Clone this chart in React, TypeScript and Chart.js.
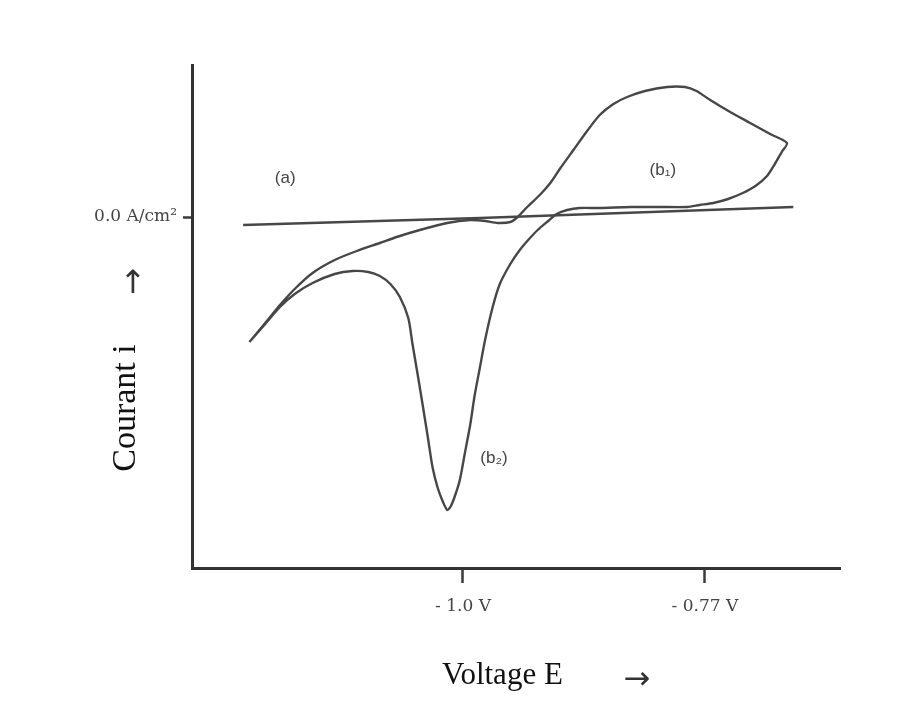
import React, { useEffect, useRef } from "react";
import { Chart, registerables } from "chart.js";

Chart.register(...registerables);

// Curve (a): straight baseline
const potentialA = [-1.209, -0.984, -0.686];
const currentA = [-0.08, -0.01, 0.1];

// Curve (b): cyclic voltammogram loop (V, arbitrary current units)
const potentialB = [
  -1.203, -1.188, -1.174, -1.16, -1.143, -1.122, -1.101, -1.079, -1.063, -1.041,
  -1.015, -0.993, -0.979, -0.967, -0.955, -0.948, -0.939, -0.927, -0.917, -0.908,
  -0.895, -0.882, -0.87, -0.857, -0.844, -0.827, -0.806, -0.789, -0.778, -0.765,
  -0.746, -0.727, -0.708, -0.692,
  -0.697, -0.703, -0.711, -0.722, -0.734, -0.748, -0.762, -0.775, -0.787, -0.813,
  -0.841, -0.87, -0.889, -0.901, -0.911, -0.919, -0.929, -0.938, -0.946, -0.955,
  -0.965, -0.972, -0.979, -0.984, -0.989, -0.993, -0.998, -1.003, -1.008, -1.012,
  -1.015, -1.019, -1.024, -1.029, -1.033, -1.038, -1.043, -1.048, -1.052, -1.06,
  -1.069, -1.079, -1.09, -1.105, -1.122, -1.143, -1.16, -1.174, -1.188, -1.203,
];
const currentB = [
  -1.25, -1.06, -0.88, -0.72, -0.56, -0.43, -0.34, -0.26, -0.2, -0.13,
  -0.06, -0.03, -0.04, -0.06, -0.05, 0.0, 0.1, 0.22, 0.34, 0.48,
  0.67, 0.86, 1.02, 1.13, 1.2, 1.26, 1.3, 1.3, 1.26, 1.17,
  1.05, 0.94, 0.83, 0.74,
  0.65, 0.54, 0.41, 0.31, 0.24, 0.18, 0.14, 0.12, 0.1, 0.1,
  0.1, 0.09, 0.09, 0.07, 0.03, -0.04, -0.13, -0.23, -0.33, -0.47,
  -0.67, -0.91, -1.23, -1.51, -1.79, -2.07, -2.35, -2.63, -2.8, -2.9,
  -2.93, -2.85, -2.71, -2.5, -2.23, -1.9, -1.58, -1.27, -1.01, -0.8,
  -0.67, -0.59, -0.55, -0.54, -0.57, -0.66, -0.77, -0.9, -1.07, -1.25,
];

const xRange = [-1.2576, -0.6416];
const yRange = [-3.51, 1.52];

const xTickValues = [-1.0, -0.77];
const xTickLabels = ["- 1.0 V", "- 0.77 V"];
const yTickValues = [0];
const yTickLabels = ["0.0 A/cm²"];

const curveLabels = ["(a)", "(b₁)", "(b₂)"];
const curveLabelX = [-1.169, -0.81, -0.9705];
const curveLabelY = [0.39, 0.47, -2.41];

const xTitle = "Voltage E";
const yTitle = "Courant i";

const annotationsPlugin = {
  id: "cvAnnotations",
  afterDraw(chart: any) {
    const { ctx, chartArea } = chart;
    const x = chart.scales.x;
    const y = chart.scales.y;
    ctx.save();
    ctx.fillStyle = "#444";
    ctx.font = '17px "Liberation Sans", "DejaVu Sans", sans-serif';
    ctx.textAlign = "center";
    ctx.textBaseline = "middle";
    curveLabels.forEach((t, i) => {
      ctx.fillText(t, x.getPixelForValue(curveLabelX[i]), y.getPixelForValue(curveLabelY[i]));
    });

    // y title (rotated)
    ctx.fillStyle = "#111";
    ctx.font = '34px "Liberation Serif", serif';
    ctx.save();
    ctx.translate(chartArea.left - 66, chartArea.top + 343);
    ctx.rotate(-Math.PI / 2);
    ctx.fillText(yTitle, 0, 0);
    ctx.restore();

    ctx.fillStyle = "#333";
    ctx.font = '32px "DejaVu Sans", sans-serif';
    ctx.fillText("↑", chartArea.left - 59, chartArea.top + 220);

    // x title
    ctx.fillStyle = "#111";
    ctx.font = '31px "Liberation Serif", serif';
    ctx.textAlign = "left";
    ctx.textBaseline = "alphabetic";
    ctx.fillText(xTitle, chartArea.left + 250, chartArea.bottom + 116);

    ctx.fillStyle = "#333";
    ctx.font = '32px "DejaVu Sans", sans-serif';
    ctx.textAlign = "center";
    ctx.textBaseline = "middle";
    ctx.fillText("→", chartArea.left + 445, chartArea.bottom + 113);
    ctx.restore();
  },
};

export default function App() {
  const canvasRef = useRef<HTMLCanvasElement | null>(null);

  useEffect(() => {
    const canvas = canvasRef.current;
    if (!canvas) return;
    const lineColor = "#474747";
    const chart = new Chart(canvas, {
      type: "scatter",
      data: {
        datasets: [
          {
            label: "(a)",
            data: potentialA.map((v, i) => ({ x: v, y: currentA[i] })),
            showLine: true,
            borderColor: lineColor,
            borderWidth: 2.4,
            pointRadius: 0,
            tension: 0,
          },
          {
            label: "(b)",
            data: potentialB.map((v, i) => ({ x: v, y: currentB[i] })),
            showLine: true,
            borderColor: lineColor,
            borderWidth: 2.4,
            pointRadius: 0,
            tension: 0.25,
          },
        ],
      },
      options: {
        responsive: false,
        animation: false,
        devicePixelRatio: 1,
        layout: { padding: { left: 0, top: 65, right: 62, bottom: 0 } },
        plugins: {
          legend: { display: false },
          tooltip: { enabled: false },
        },
        scales: {
          x: {
            type: "linear",
            min: xRange[0],
            max: xRange[1],
            afterBuildTicks: (scale: any) => {
              scale.ticks = xTickValues.map((v) => ({ value: v }));
            },
            afterFit: (scale: any) => {
              scale.height = 156;
            },
            ticks: {
              callback: (v: any) => {
                const idx = xTickValues.findIndex((t) => Math.abs(t - Number(v)) < 1e-6);
                return idx >= 0 ? xTickLabels[idx] : "";
              },
              font: { family: '"DejaVu Serif", serif', size: 17 },
              color: "#444",
              padding: 13,
              maxRotation: 0,
              autoSkip: false,
            },
            grid: {
              display: true,
              drawOnChartArea: false,
              drawTicks: true,
              tickLength: 15,
              tickWidth: 2.5,
              tickColor: "#3a3a3a",
            },
            border: { display: true, color: "#333", width: 3 },
          },
          y: {
            type: "linear",
            min: yRange[0],
            max: yRange[1],
            afterBuildTicks: (scale: any) => {
              scale.ticks = yTickValues.map((v) => ({ value: v }));
            },
            afterFit: (scale: any) => {
              scale.width = 192;
            },
            ticks: {
              callback: (v: any) => {
                const idx = yTickValues.findIndex((t) => Math.abs(t - Number(v)) < 1e-6);
                return idx >= 0 ? yTickLabels[idx] : "";
              },
              font: { family: '"DejaVu Serif", serif', size: 17 },
              color: "#444",
              padding: 6,
              autoSkip: false,
            },
            grid: {
              display: true,
              drawOnChartArea: false,
              drawTicks: true,
              tickLength: 9,
              tickWidth: 2.5,
              tickColor: "#3a3a3a",
            },
            border: { display: true, color: "#333", width: 3 },
          },
        },
      },
      plugins: [annotationsPlugin],
    });
    return () => chart.destroy();
  }, []);

  return (
    <div style={{ position: "absolute", left: 0, top: 0, width: 902, height: 724, background: "#fff" }}>
      <canvas ref={canvasRef} width={902} height={724} style={{ display: "block", width: 902, height: 724 }} />
    </div>
  );
}
